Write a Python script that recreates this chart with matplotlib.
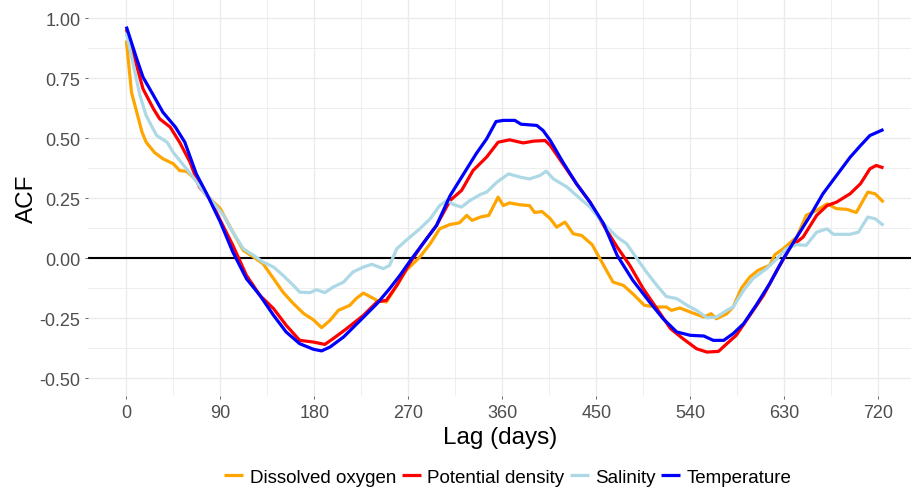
import matplotlib
matplotlib.use("Agg")
import matplotlib.pyplot as plt
import numpy as np

plt.rcParams['font.family'] = ['Liberation Sans', 'DejaVu Sans']

# ---- data ----
temp_lag = [0, 10, 16, 26, 35, 47, 56, 67, 77, 90, 102, 115, 128, 141, 153, 166, 179, 187, 195, 208, 224, 240, 252, 262, 272, 284, 297, 310, 322, 335, 345, 354, 361, 372, 378, 393, 399, 406, 418, 431, 444, 457, 470, 485, 501, 514, 527, 540, 553, 562, 572, 581, 591, 603, 616, 629, 642, 655, 667, 680, 693, 703, 712, 725]
temp_acf = [0.965, 0.83, 0.754, 0.678, 0.608, 0.546, 0.483, 0.351, 0.268, 0.15, 0.025, -0.086, -0.156, -0.239, -0.308, -0.357, -0.38, -0.387, -0.371, -0.329, -0.26, -0.19, -0.128, -0.072, -0.01, 0.06, 0.136, 0.26, 0.344, 0.435, 0.497, 0.569, 0.574, 0.574, 0.558, 0.553, 0.532, 0.49, 0.40, 0.31, 0.233, 0.143, 0.011, -0.093, -0.183, -0.253, -0.308, -0.322, -0.325, -0.343, -0.343, -0.315, -0.274, -0.197, -0.107, -0.003, 0.0875, 0.178, 0.268, 0.344, 0.42, 0.469, 0.511, 0.536]

dens_lag = [0, 10, 16, 26, 32, 42, 51, 61, 70, 80, 90, 102, 115, 128, 141, 153, 166, 179, 190, 198, 211, 227, 240, 249, 259, 272, 284, 297, 310, 321, 332, 345, 356, 367, 380, 390, 401, 406, 418, 431, 444, 457, 470, 482, 495, 508, 521, 533, 546, 556, 567, 575, 584, 597, 610, 623, 636, 648, 661, 671, 680, 693, 703, 712, 718, 725]
dens_acf = [0.955, 0.80, 0.705, 0.622, 0.58, 0.546, 0.483, 0.40, 0.296, 0.247, 0.157, 0.053, -0.072, -0.156, -0.211, -0.28, -0.343, -0.35, -0.36, -0.336, -0.294, -0.239, -0.183, -0.176, -0.114, -0.017, 0.06, 0.136, 0.24, 0.282, 0.365, 0.421, 0.483, 0.493, 0.48, 0.4875, 0.49, 0.469, 0.393, 0.31, 0.233, 0.136, 0.046, -0.03, -0.128, -0.211, -0.294, -0.336, -0.378, -0.392, -0.389, -0.357, -0.322, -0.239, -0.156, -0.051, 0.046, 0.0875, 0.178, 0.219, 0.233, 0.268, 0.31, 0.372, 0.386, 0.376]

sal_lag = [0, 7, 13, 19, 29, 39, 45, 55, 64, 74, 83, 93, 102, 112, 122, 131, 141, 150, 160, 166, 176, 182, 190, 198, 208, 217, 227, 235, 246, 252, 259, 268, 281, 291, 300, 307, 314, 321, 329, 339, 345, 355, 366, 377, 386, 396, 402, 409, 422, 431, 444, 457, 470, 479, 489, 498, 508, 517, 527, 537, 546, 556, 565, 575, 581, 591, 600, 613, 623, 632, 642, 651, 661, 671, 677, 693, 701, 710, 717, 725]
sal_acf = [0.94, 0.80, 0.678, 0.594, 0.511, 0.483, 0.44, 0.386, 0.3375, 0.275, 0.233, 0.178, 0.108, 0.039, 0.011, -0.017, -0.0375, -0.072, -0.114, -0.142, -0.144, -0.132, -0.144, -0.121, -0.10, -0.058, -0.0375, -0.026, -0.044, -0.031, 0.039, 0.074, 0.122, 0.164, 0.219, 0.24, 0.222, 0.2125, 0.24, 0.265, 0.275, 0.317, 0.351, 0.3375, 0.33, 0.344, 0.3625, 0.33, 0.296, 0.261, 0.2125, 0.143, 0.0875, 0.06, -0.003, -0.058, -0.114, -0.16, -0.169, -0.197, -0.218, -0.249, -0.246, -0.218, -0.204, -0.135, -0.086, -0.044, -0.003, 0.039, 0.056, 0.053, 0.108, 0.122, 0.099, 0.099, 0.108, 0.171, 0.164, 0.136]

oxy_lag = [0, 5, 10, 15, 19, 27, 35, 45, 51, 58, 67, 77, 90, 102, 112, 122, 131, 141, 150, 160, 170, 179, 187, 195, 203, 214, 220, 227, 240, 249, 259, 268, 281, 291, 300, 310, 319, 326, 331, 339, 347, 356, 361, 367, 377, 386, 391, 398, 406, 412, 420, 428, 436, 446, 457, 466, 476, 485, 496, 508, 517, 522, 530, 540, 553, 560, 565, 575, 581, 589, 597, 605, 616, 621, 629, 642, 651, 661, 671, 680, 690, 699, 710, 717, 725]
oxy_acf = [0.907, 0.69, 0.608, 0.525, 0.483, 0.44, 0.414, 0.393, 0.365, 0.361, 0.324, 0.261, 0.206, 0.108, 0.032, 0.004, -0.024, -0.086, -0.142, -0.19, -0.232, -0.257, -0.29, -0.26, -0.218, -0.197, -0.169, -0.146, -0.176, -0.183, -0.114, -0.051, 0.004, 0.06, 0.122, 0.14, 0.147, 0.178, 0.157, 0.171, 0.178, 0.254, 0.219, 0.23, 0.222, 0.219, 0.19, 0.194, 0.164, 0.129, 0.15, 0.101, 0.094, 0.056, -0.03, -0.10, -0.114, -0.149, -0.197, -0.204, -0.204, -0.218, -0.208, -0.225, -0.246, -0.232, -0.253, -0.232, -0.204, -0.125, -0.079, -0.051, -0.03, 0.014, 0.039, 0.0875, 0.178, 0.199, 0.226, 0.206, 0.203, 0.19, 0.275, 0.268, 0.233]

series = [
    ("Dissolved oxygen", oxy_lag, oxy_acf, "orange"),
    ("Potential density", dens_lag, dens_acf, "red"),
    ("Salinity", sal_lag, sal_acf, "lightblue"),
    ("Temperature", temp_lag, temp_acf, "blue"),
]

x_ticks = [0, 90, 180, 270, 360, 450, 540, 630, 720]
y_ticks = [-0.50, -0.25, 0.00, 0.25, 0.50, 0.75, 1.00]

W, H = 912, 489
fig = plt.figure(figsize=(W / 100, H / 100), dpi=100)
ax = fig.add_axes([88 / W, 1 - 397 / H, 1 - 88 / W, 397 / H])

for sp in ax.spines.values():
    sp.set_visible(False)

ax.set_xlim(-36.7, 752.3)
ax.set_ylim(-0.575, 1.08)

# grid
for xv in np.arange(-45, 760, 45):
    major = (xv % 90 == 0)
    ax.axvline(xv, color="#ebebeb", lw=1.0 if major else 0.6, zorder=0)
for yv in np.arange(-0.5, 1.01, 0.125):
    major = abs((yv / 0.25) - round(yv / 0.25)) < 1e-6
    ax.axhline(yv, color="#ebebeb", lw=1.0 if major else 0.6, zorder=0)

ax.axhline(0, color="black", lw=1.5, zorder=1)

for name, lag, acf, col in series:
    ax.plot(lag, acf, color=col, lw=2.3, label=name, zorder=2,
            solid_joinstyle="round", solid_capstyle="butt")

ax.set_xticks(x_ticks)
ax.set_xticklabels([str(v) for v in x_ticks])
ax.set_yticks(y_ticks)
ax.set_yticklabels([f"{v:.2f}" for v in y_ticks])
ax.tick_params(axis="both", colors="#4d4d4d", labelcolor="#4d4d4d",
               labelsize=13, length=2.5, width=0.6, pad=3)
ax.tick_params(axis="x", pad=3)

ax.set_xlabel("Lag (days)", fontsize=17.5, color="black", labelpad=4)
ax.set_ylabel("ACF", fontsize=17.5, color="black", labelpad=1)

handles, labels = ax.get_legend_handles_labels()
fig.legend(handles, labels, loc="lower center", bbox_to_anchor=(0.557, -0.03),
           ncol=4, frameon=False, fontsize=13.5, handlelength=1.0,
           handletextpad=0.35, columnspacing=0.3)

fig.savefig("out.png", dpi=100, facecolor="white")
